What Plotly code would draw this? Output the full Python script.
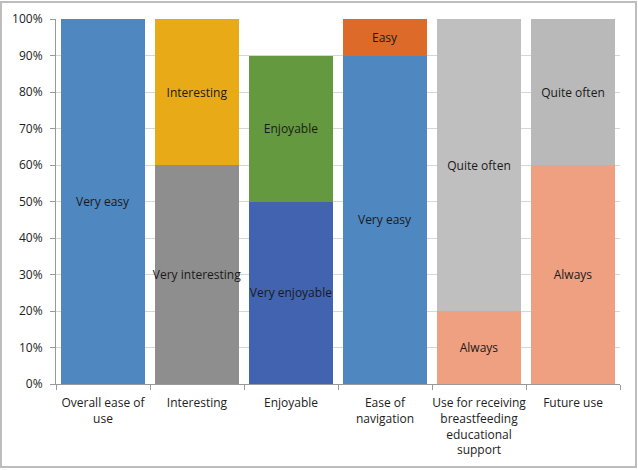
import plotly.graph_objects as go

categories = ["Overall ease of<br>use", "Interesting", "Enjoyable", "Ease of<br>navigation",
              "Use for receiving<br>breastfeeding<br>educational<br>support", "Future use"]
bottom_labels = ["Very easy", "Very interesting", "Very enjoyable", "Very easy", "Always", "Always"]
bottom_values = [1.0, 0.6, 0.5, 0.9, 0.2, 0.6]
top_labels = ["", "Interesting", "Enjoyable", "Easy", "Quite often", "Quite often"]
top_values = [0.0, 0.4, 0.4, 0.1, 0.8, 0.4]

bottom_colors = ["#4f87c0", "#8e8e8e", "#4163b0", "#4f87c0", "#eea080", "#eea080"]
top_colors = ["#4f87c0", "#e8aa16", "#64993f", "#de6a2a", "#bfbfbf", "#b9b9b9"]

FONT = "Open Sans"
fig = go.Figure()
fig.add_trace(go.Bar(x=categories, y=bottom_values, text=bottom_labels,
                     marker=dict(color=bottom_colors, line=dict(width=0)),
                     textposition="inside", insidetextanchor="middle",
                     textfont=dict(family=FONT, size=12, color="#1a1a1a"),
                     textangle=0, hoverinfo="skip"))
fig.add_trace(go.Bar(x=categories, y=top_values, text=top_labels,
                     marker=dict(color=top_colors, line=dict(width=0)),
                     textposition="inside", insidetextanchor="middle",
                     textfont=dict(family=FONT, size=12, color="#1a1a1a"),
                     textangle=0, hoverinfo="skip"))

fig.update_layout(
    barmode="stack", bargap=0.1, showlegend=False,
    width=638, height=470,
    margin=dict(l=56, r=18, t=19, b=86),
    paper_bgcolor="white", plot_bgcolor="white",
    font=dict(family=FONT, size=12, color="#222"),
    uniformtext=dict(minsize=12, mode="show"),
    shapes=[dict(type="rect", xref="paper", yref="paper",
                 x0=-55/564, x1=1 + 16/564, y0=-83/365, y1=1 + 17/365,
                 line=dict(color="#bdbdbd", width=2))],
)
fig.update_yaxes(range=[0, 1], tickformat=".0%", dtick=0.1,
                 showgrid=True, gridcolor="#d6d6d6", gridwidth=1,
                 showline=True, linecolor="#9a9a9a", linewidth=1,
                 ticks="outside", ticklen=5, tickcolor="#9a9a9a",
                 ticklabelstandoff=5,
                 tickfont=dict(size=12, color="#222"), zeroline=False,
                 automargin=False)
fig.update_xaxes(showline=True, linecolor="#9a9a9a", linewidth=1,
                 ticks="outside", ticklen=5, tickcolor="#9a9a9a",
                 tickson="boundaries", tickangle=0, automargin=False,
                 ticklabelstandoff=8,
                 tickfont=dict(size=12, color="#222"))

fig.write_html("out.html", config={"displayModeBar": False},
               post_script="document.body.style.margin='0';")
